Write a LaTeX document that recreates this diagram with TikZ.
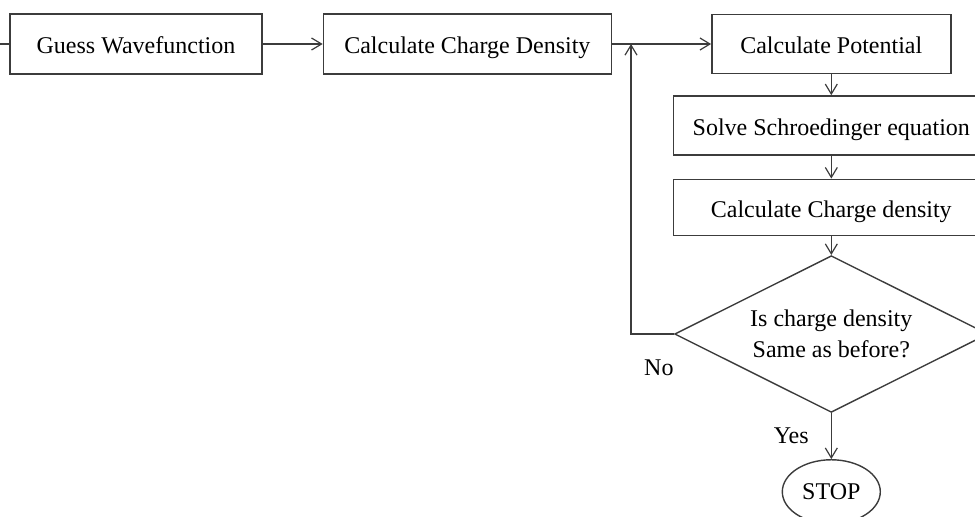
\documentclass[tikz,border=0pt]{standalone}
\usepackage{fontspec}
\setmainfont{Liberation Serif}
\usetikzlibrary{arrows.meta,positioning,shapes.geometric}
\definecolor{LineGray}{HTML}{3C3C3C}
\tikzset{
  stepbox/.style={draw=LineGray, line width=0.7pt, minimum height=30pt,
    inner sep=0pt, text height=10pt, text depth=0pt},
  decision/.style={diamond, draw=LineGray, line width=0.7pt, aspect=2,
    inner sep=4.6pt, align=center},
  terminal/.style={ellipse, draw=LineGray, line width=0.7pt, minimum width=49pt,
    minimum height=32pt, inner sep=0pt},
  flow/.style={-{Straight Barb[length=5pt,width=6pt]}, draw=LineGray, line width=0.6pt},
  answer/.style={inner sep=0pt}
}

\begin{document}
\begin{tikzpicture}[font=\fontsize{12}{15.5}\selectfont, node distance=10.5pt and 30pt]
  \clip (0,0) rectangle (487.5pt,-258.5pt);
  \node[stepbox, minimum width=126pt] (guess) at (68pt,-22pt) {Guess Wavefunction};
  \node[stepbox, minimum width=144pt, right=30pt of guess] (charge) {Calculate Charge Density};
  \node[stepbox, minimum width=119.5pt, minimum height=29.5pt, right=49.5pt of charge]
    (potential) {Calculate Potential};
  \node[stepbox, minimum width=158pt, minimum height=29.5pt, below=of potential]
    (solve) {Solve Schroedinger equation};
  \node[stepbox, minimum width=158pt, minimum height=28pt, below=11.5pt of solve]
    (density) {Calculate Charge density};
  \node[decision, below=9.5pt of density] (same) {Is charge density\\Same as before?};
  \node[terminal, below=23pt of same] (stop) {STOP};

  \coordinate (entry) at (0,-22pt);
  \coordinate (merge) at (315.5pt,-22pt);

  \draw[LineGray, line width=0.6pt] (entry) -- (guess.west);
  \draw[flow] (guess) -- (charge);
  \draw[flow] (charge) -- (potential);
  \draw[flow] (potential) -- (solve);
  \draw[flow] (solve) -- (density);
  \draw[flow] (density) -- (same);
  \draw[flow] (same) -- node[answer, left=11pt] {Yes} (stop);
  \draw[flow] (same.west) -| (merge);
  \node[answer, below left=12.5pt and 0pt of same.west] (no) {No};
\end{tikzpicture}
\end{document}
